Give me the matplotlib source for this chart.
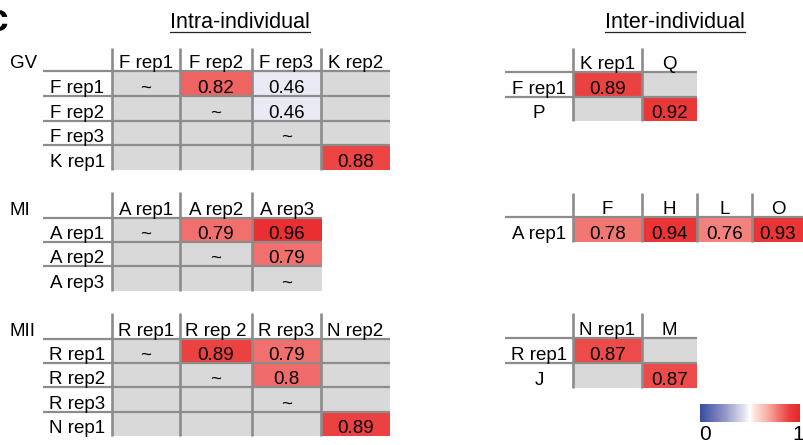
import numpy as np
import matplotlib
matplotlib.use("Agg")
import matplotlib.pyplot as plt
from matplotlib.colors import LinearSegmentedColormap
from matplotlib.patches import Rectangle

plt.rcParams['font.family'] = ['Liberation Sans', 'DejaVu Sans']

# Intra-individual tables ("~" = same sample, None = not compared)
gv_cols = ["F rep1", "F rep2", "F rep3", "K rep2"]
gv_rows = ["F rep1", "F rep2", "F rep3", "K rep1"]
gv_vals = [["~", 0.82, 0.46, None],
           [None, "~", 0.46, None],
           [None, None, "~", None],
           [None, None, None, 0.88]]

mi_cols = ["A rep1", "A rep2", "A rep3"]
mi_rows = ["A rep1", "A rep2", "A rep3"]
mi_vals = [["~", 0.79, 0.96],
           [None, "~", 0.79],
           [None, None, "~"]]

mii_cols = ["R rep1", "R rep 2", "R rep3", "N rep2"]
mii_rows = ["R rep1", "R rep2", "R rep3", "N rep1"]
mii_vals = [["~", 0.89, 0.79, None],
            [None, "~", 0.8, None],
            [None, None, "~", None],
            [None, None, None, 0.89]]

# Inter-individual tables
gv_inter_cols = ["K rep1", "Q"]
gv_inter_rows = ["F rep1", "P"]
gv_inter_vals = [[0.89, None],
                 [None, 0.92]]

mi_inter_cols = ["F", "H", "L", "O"]
mi_inter_rows = ["A rep1"]
mi_inter_vals = [[0.78, 0.94, 0.76, 0.93]]

mii_inter_cols = ["N rep1", "M"]
mii_inter_rows = ["R rep1", "J"]
mii_inter_vals = [[0.87, None],
                  [None, 0.87]]

GRAY = "#d9d9d9"
LINE = "#8c8c8c"
FS = 13.5

cmap = LinearSegmentedColormap.from_list("corr", [
    (0.0, "#3a4c9f"), (0.25, "#9497c8"), (0.45, "#e6e6f3"), (0.5, "#ffffff"),
    (0.55, "#fde3da"), (0.7, "#f7a49a"), (0.8, "#f06c6a"), (0.9, "#eb3d3c"),
    (1.0, "#e8262a")])

fig = plt.figure(figsize=(8.04, 4.45), dpi=100)
ax = fig.add_axes([0, 0, 1, 1])
ax.set_xlim(0, 804)
ax.set_ylim(445, 0)
ax.axis("off")


def draw_table(x_lab, col_edges, y_head, row_edges, cols, rows, vals, name=None):
    x_end = col_edges[-1]
    for i in range(len(rows)):
        y0, y1 = row_edges[i], row_edges[i + 1]
        for j in range(len(cols)):
            x0, x1 = col_edges[j], col_edges[j + 1]
            v = vals[i][j]
            face = GRAY if (v is None or v == "~") else cmap(v)
            ax.add_patch(Rectangle((x0, y0), x1 - x0, y1 - y0,
                                   facecolor=face, edgecolor="none", zorder=1))
            if v is not None:
                txt = v if v == "~" else f"{v:g}"
                ax.text((x0 + x1) / 2, y1 - 3, txt, ha="center", va="baseline",
                        fontsize=FS, zorder=3)
        ax.text((x_lab + col_edges[0]) / 2, y1 - 3, rows[i], ha="center",
                va="baseline", fontsize=FS, zorder=3)
        # separator above each body row
        ax.plot([x_lab, x_end], [y0, y0], color=LINE, lw=1.6,
                solid_capstyle="butt", zorder=2)
    for j, c in enumerate(cols):
        ax.text((col_edges[j] + col_edges[j + 1]) / 2, row_edges[0] - 3, c,
                ha="center", va="baseline", fontsize=FS, zorder=3)
        ax.plot([col_edges[j], col_edges[j]], [y_head, row_edges[-1]],
                color=LINE, lw=1.9, solid_capstyle="butt", zorder=2)
    if name:
        ax.text(10, row_edges[0] - 3, name, ha="left", va="baseline", fontsize=FS)


intra_cols4 = [112, 180, 252, 321, 390]
intra_cols3 = [112, 180, 252, 322]
draw_table(43, intra_cols4, 48, [71, 96, 121, 145, 170],
           gv_cols, gv_rows, gv_vals, "GV")
draw_table(43, intra_cols3, 192, [218, 242, 266, 291],
           mi_cols, mi_rows, mi_vals, "MI")
draw_table(43, intra_cols4, 313, [339, 363, 387, 412, 436],
           mii_cols, mii_rows, mii_vals, "MII")

draw_table(505, [573, 642, 697], 48, [72, 97, 121],
           gv_inter_cols, gv_inter_rows, gv_inter_vals)
draw_table(505, [573, 642, 697, 752, 804], 193, [217, 242],
           mi_inter_cols, mi_inter_rows, mi_inter_vals)
draw_table(505, [573, 642, 697], 313, [338, 363, 388],
           mii_inter_cols, mii_inter_rows, mii_inter_vals)

# underlined section titles
fig.canvas.draw()
renderer = fig.canvas.get_renderer()
for xc, title in [(240, "Intra-individual"), (675, "Inter-individual")]:
    t = ax.text(xc, 28, title, ha="center", va="baseline", fontsize=15.5)
    bb = t.get_window_extent(renderer).transformed(ax.transData.inverted())
    ax.plot([bb.x0, bb.x1], [32, 32], color="#222222", lw=0.9)

ax.text(-14, 31, "c", fontsize=28, fontweight="bold", ha="left", va="baseline")

# colour scale
grad = np.linspace(0, 1, 256)[None, :]
ax.imshow(grad, cmap=cmap, extent=(700, 800, 422, 404), aspect="auto", zorder=1)
ax.text(705, 440, "0", ha="center", va="baseline", fontsize=15)
ax.text(798, 440, "1", ha="center", va="baseline", fontsize=15)
ax.set_xlim(0, 804)
ax.set_ylim(445, 0)

fig.savefig("out.png", dpi=100)
